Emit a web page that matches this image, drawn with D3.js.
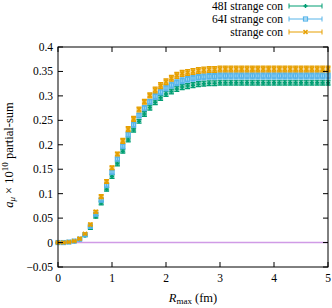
<!DOCTYPE html>
<html>
<head>
<meta charset="utf-8">
<script src="https://cdn.jsdelivr.net/npm/d3@7"></script>
<style>
  body { margin: 0; background: #fff; }
  text { font-family: "Liberation Serif", "DejaVu Serif", serif; font-size: 11.5px; fill: #000; }
</style>
</head>
<body>
<svg id="chart" width="332" height="308"></svg>
<script>
// R_max values (fm)
const rmax = [0.0,0.1,0.2,0.3,0.4,0.5,0.6,0.7,0.8,0.9,1.0,1.1,1.2,1.3,1.4,1.5,1.6,1.7,1.8,1.9,2.0,
  2.1,2.2,2.3,2.4,2.5,2.6,2.7,2.8,2.9,3.0,3.1,3.2,3.3,3.4,3.5,3.6,3.7,3.8,3.9,4.0,
  4.1,4.2,4.3,4.4,4.5,4.6,4.7,4.8,4.9,5.0];

const val48I = [0.000,0.000,0.001,0.002,0.006,0.014,0.030,0.053,0.081,0.109,0.135,
  0.161,0.187,0.210,0.230,0.248,0.263,0.276,0.287,0.296,0.304,
  0.309,0.314,0.318,0.320,0.322,0.324,0.325,0.326,0.326,0.327,
  0.327,0.327,0.327,0.327,0.327,0.327,0.327,0.327,0.327,0.327,
  0.327,0.327,0.327,0.327,0.327,0.327,0.327,0.327,0.327,0.327];
const err48I = [0.001,0.001,0.001,0.001,0.002,0.002,0.003,0.003,0.004,0.004,0.004,
  0.004,0.004,0.004,0.004,0.004,0.005,0.005,0.005,0.005,0.005,
  0.005,0.005,0.005,0.005,0.005,0.005,0.005,0.005,0.005,0.005,
  0.005,0.005,0.005,0.005,0.005,0.005,0.005,0.005,0.005,0.005,
  0.005,0.005,0.005,0.005,0.005,0.005,0.005,0.005,0.005,0.005];

const val64I = [0.000,0.000,0.001,0.003,0.007,0.016,0.033,0.058,0.087,0.117,0.144,
  0.171,0.197,0.221,0.241,0.260,0.275,0.288,0.299,0.308,0.316,
  0.322,0.327,0.331,0.334,0.336,0.338,0.339,0.340,0.340,0.341,
  0.341,0.341,0.341,0.341,0.341,0.341,0.341,0.341,0.341,0.341,
  0.341,0.341,0.341,0.341,0.341,0.341,0.341,0.341,0.341,0.341];
const err64I = [0.001,0.001,0.001,0.001,0.002,0.002,0.003,0.003,0.004,0.004,0.004,
  0.004,0.005,0.005,0.005,0.005,0.005,0.005,0.006,0.006,0.006,
  0.006,0.006,0.006,0.006,0.006,0.006,0.006,0.006,0.006,0.006,
  0.006,0.006,0.006,0.006,0.006,0.006,0.006,0.006,0.006,0.006,
  0.006,0.006,0.006,0.006,0.006,0.006,0.006,0.006,0.006,0.006];

const valStr = [0.000,0.000,0.001,0.003,0.008,0.018,0.037,0.063,0.094,0.125,0.153,
  0.181,0.208,0.232,0.253,0.272,0.288,0.301,0.312,0.321,0.329,
  0.336,0.342,0.346,0.348,0.350,0.352,0.353,0.354,0.354,0.355,
  0.355,0.355,0.355,0.355,0.355,0.355,0.355,0.355,0.355,0.355,
  0.355,0.355,0.355,0.355,0.355,0.355,0.355,0.355,0.355,0.355];
const errStr = [0.001,0.001,0.001,0.001,0.002,0.002,0.003,0.003,0.004,0.004,0.004,
  0.004,0.005,0.005,0.005,0.005,0.005,0.005,0.006,0.006,0.006,
  0.006,0.006,0.006,0.006,0.006,0.006,0.006,0.006,0.006,0.006,
  0.006,0.006,0.006,0.006,0.006,0.006,0.006,0.006,0.006,0.006,
  0.006,0.006,0.006,0.006,0.006,0.006,0.006,0.006,0.006,0.006];

const xTicks = [0, 1, 2, 3, 4, 5];
const yTicks = [-0.05, 0, 0.05, 0.1, 0.15, 0.2, 0.25, 0.3, 0.35, 0.4];
const zeroLine = [0, 5];

const series = [
  { name: '48I strange con', vals: val48I, errs: err48I, color: '#009e73', marker: 'plus' },
  { name: '64I strange con', vals: val64I, errs: err64I, color: '#56b4e9', marker: 'square' },
  { name: 'strange con', vals: valStr, errs: errStr, color: '#e69f00', marker: 'cross' }
];

const svg = d3.select('#chart');
const pLeft = 58, pRight = 328, pTop = 47, pBottom = 267;

const x = d3.scaleLinear().domain([0, 5]).range([pLeft, pRight]);
const y = d3.scaleLinear().domain([-0.05, 0.4]).range([pBottom, pTop]);

// zero line
svg.append('line')
  .attr('x1', x(zeroLine[0])).attr('x2', x(zeroLine[1]))
  .attr('y1', y(0)).attr('y2', y(0))
  .attr('stroke', '#d09be6').attr('stroke-width', 1.5);

function drawMarker(g, type, cx, cy, color, s) {
  if (type === 'plus') {
    g.append('path').attr('d', `M${cx - s},${cy}H${cx + s}M${cx},${cy - s}V${cy + s}`)
      .attr('stroke', color).attr('stroke-width', 1.5).attr('fill', 'none');
  } else if (type === 'square') {
    g.append('rect').attr('x', cx - s).attr('y', cy - s).attr('width', 2 * s).attr('height', 2 * s)
      .attr('stroke', color).attr('stroke-width', 1.2).attr('fill', 'none');
  } else {
    g.append('path').attr('d', `M${cx - s},${cy - s}L${cx + s},${cy + s}M${cx - s},${cy + s}L${cx + s},${cy - s}`)
      .attr('stroke', color).attr('stroke-width', 1.5).attr('fill', 'none');
  }
}

const cap = 2.5;
series.forEach(s => {
  const g = svg.append('g');
  rmax.forEach((r, i) => {
    const cx = x(r), y0 = y(s.vals[i] - s.errs[i]), y1 = y(s.vals[i] + s.errs[i]);
    g.append('rect').attr('x', cx - cap).attr('y', y1).attr('width', 2 * cap).attr('height', y0 - y1)
      .attr('fill', s.color).attr('opacity', 0.55);
    g.append('path')
      .attr('d', `M${cx},${y0}V${y1}M${cx - cap},${y0}H${cx + cap}M${cx - cap},${y1}H${cx + cap}`)
      .attr('stroke', s.color).attr('stroke-width', 1.2).attr('fill', 'none');
    drawMarker(g, s.marker, cx, y(s.vals[i]), s.color, 2);
  });
});

// frame
svg.append('rect').attr('x', pLeft).attr('y', pTop).attr('width', pRight - pLeft).attr('height', pBottom - pTop)
  .attr('fill', 'none').attr('stroke', '#000').attr('stroke-width', 1);

const tl = 5;
const axes = svg.append('g').attr('stroke', '#000').attr('stroke-width', 1);
xTicks.forEach(t => {
  axes.append('line').attr('x1', x(t)).attr('x2', x(t)).attr('y1', pBottom).attr('y2', pBottom - tl);
  axes.append('line').attr('x1', x(t)).attr('x2', x(t)).attr('y1', pTop).attr('y2', pTop + tl);
  svg.append('text').attr('x', x(t)).attr('y', pBottom + 15).attr('text-anchor', 'middle').text(t);
});
yTicks.forEach(t => {
  axes.append('line').attr('x1', pLeft).attr('x2', pLeft + tl).attr('y1', y(t)).attr('y2', y(t));
  axes.append('line').attr('x1', pRight).attr('x2', pRight - tl).attr('y1', y(t)).attr('y2', y(t));
  svg.append('text').attr('x', pLeft - 5).attr('y', y(t) + 4).attr('text-anchor', 'end')
    .text(t < 0 ? '\u2212' + String(-t) : String(t));
});

// axis labels
const xl = svg.append('text').attr('x', 193).attr('y', 302).attr('text-anchor', 'middle').style('font-size', '12.5px');
xl.append('tspan').attr('font-style', 'italic').text('R');
xl.append('tspan').style('font-size', '9px').attr('dy', 2).text('max');
xl.append('tspan').attr('dy', -2).text(' (fm)');

const yl = svg.append('text').attr('transform', 'translate(13,155) rotate(-90)').attr('text-anchor', 'middle').style('font-size', '12.5px');
yl.append('tspan').attr('font-style', 'italic').text('a');
yl.append('tspan').attr('font-style', 'italic').style('font-size', '9px').attr('dy', 2).text('\u03bc');
yl.append('tspan').attr('dy', -2).text(' \u00d7 10');
yl.append('tspan').style('font-size', '9px').attr('dy', -5).text('10');
yl.append('tspan').attr('dy', 5).text(' partial-sum');

// legend
const legRows = [6, 19, 32];
series.forEach((s, i) => {
  const ly = legRows[i];
  svg.append('text').attr('x', 283).attr('y', ly + 4).attr('text-anchor', 'end').text(s.name);
  const g = svg.append('g');
  g.append('path')
    .attr('d', `M289,${ly}H322M289,${ly - 2.5}V${ly + 2.5}M322,${ly - 2.5}V${ly + 2.5}`)
    .attr('stroke', s.color).attr('stroke-width', 1).attr('fill', 'none');
  drawMarker(g, s.marker, 305.5, ly, s.color, 2);
});
</script>
</body>
</html>
